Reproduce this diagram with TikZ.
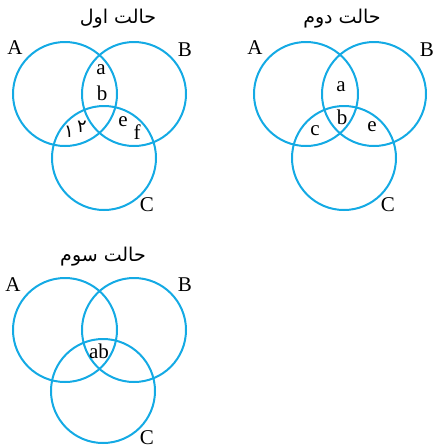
\documentclass[tikz,border=0pt]{standalone}
\usepackage{fontspec}
\setmainfont{Liberation Serif}
\newfontfamily\arabicfont[Script=Arabic]{DejaVu Sans}
\TeXXeTstate=1
\usepackage{xcolor}
\usepackage{tikz}
\usetikzlibrary{positioning}

\definecolor{setblue}{RGB}{20,170,228}

\begin{document}
\begin{tikzpicture}[
  x=1pt, y=-1pt,
  every node/.style={font=\fontsize{21}{24}\selectfont, inner sep=0pt},
  set/.style={
    circle, draw=setblue, line width=2pt,
    minimum size=104pt,
  },
  title/.style={font=\fontsize{19}{22}\selectfont\arabicfont},
  digit/.style={font=\fontsize{18}{20}\selectfont\arabicfont},
]
  \useasboundingbox (0,0) rectangle (433,448);

  % first case
  \node[title] (t1) at (118,19) {\beginR حالت اول\endR};
  \node[set] (A1) at (65,94)  {};
  \node[set] (B1) at (134,94) {};
  \node[set] (C1) at (104,158) {};
  \node (lA1) at (15,48)  {A};
  \node (lB1) at (185,50) {B};
  \node (lC1) at (147,205) {C};
  \node (a1) at (101,70) {a};
  \node (b1) at (102,93) {b};
  \node[digit] (d1) at (69,132) {۱};
  \node[digit] (d2) at (82,127) {۲};
  \node (e1) at (123,122) {e};
  \node (f1) at (137,132) {f};

  % second case
  \node[title] (t2) at (342,19) {\beginR حالت دوم\endR};
  \node[set] (A2) at (306,94)  {};
  \node[set] (B2) at (374,94)  {};
  \node[set] (C2) at (344,158) {};
  \node (lA2) at (255,48)  {A};
  \node (lB2) at (427,50)  {B};
  \node (lC2) at (388,205) {C};
  \node (a2) at (341,87)  {a};
  \node (b2) at (342,117) {b};
  \node (c2) at (315,131) {c};
  \node (e2) at (372,127) {e};

  % third case
  \node[title] (t3) at (103,257) {\beginR حالت سوم\endR};
  \node[set] (A3) at (65,330)  {};
  \node[set] (B3) at (134,330) {};
  \node[set] (C3) at (103,391) {};
  \node (lA3) at (13,285)  {A};
  \node (lB3) at (185,285) {B};
  \node (lC3) at (147,438) {C};
  \node (ab3) at (99,351) {ab};
\end{tikzpicture}
\end{document}
